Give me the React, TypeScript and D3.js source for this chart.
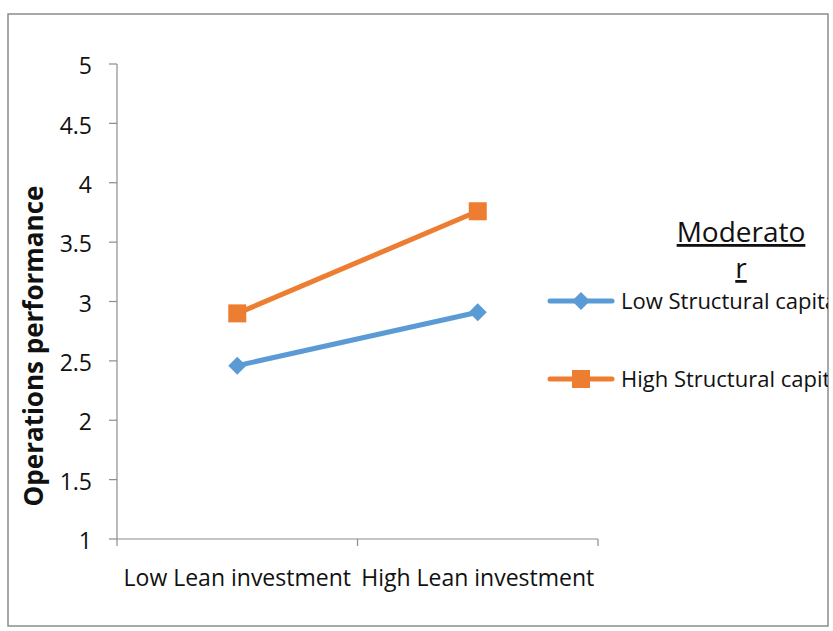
import React from 'react';
import * as d3 from 'd3';

const categories = ['Low Lean investment', 'High Lean investment'];
const lowStructural = [2.46, 2.91];
const highStructural = [2.9, 3.76];
const seriesNames = ['Low Structural capital', 'High Structural capital'];
const yTicks = [1, 1.5, 2, 2.5, 3, 3.5, 4, 4.5, 5];

const W = 833;
const H = 631;
const FONT = '"Open Sans", sans-serif';
const BLUE = '#5B9BD5';
const ORANGE = '#ED7D31';

const App: React.FC = () => {
  const x = d3.scaleBand<string>().domain(categories).range([117, 598]);
  const y = d3.scaleLinear().domain([1, 5]).range([539, 64]);
  const cx = (c: string) => (x(c) || 0) + x.bandwidth() / 2;

  const line = d3.line<number>()
    .x((_, i) => cx(categories[i]))
    .y(d => y(d));

  const diamond = (px: number, py: number, r: number) =>
    `M${px},${py - r}L${px + r},${py}L${px},${py + r}L${px - r},${py}Z`;

  const series = [
    { name: seriesNames[0], values: lowStructural, color: BLUE, marker: 'diamond' },
    { name: seriesNames[1], values: highStructural, color: ORANGE, marker: 'square' },
  ];

  const xTickPos = [117, ...categories.map(c => (x(c) || 0) + x.bandwidth())];

  return (
    <svg width={W} height={H} style={{ position: 'absolute', left: 0, top: 0 }} fontFamily={FONT}>
      <defs>
        <clipPath id="frame">
          <rect x={8} y={14} width={820} height={612} />
        </clipPath>
      </defs>
      <rect x={0} y={0} width={W} height={H} fill="white" />
      <rect x={8} y={14} width={820} height={612} fill="white" stroke="#8c8c8c" strokeWidth={1.5} />

      {/* y axis */}
      <line x1={117} x2={117} y1={y(5)} y2={y(1)} stroke="#8c8c8c" strokeWidth={1.2} />
      {yTicks.map(t => (
        <g key={t}>
          <line x1={109} x2={117} y1={y(t)} y2={y(t)} stroke="#8c8c8c" strokeWidth={1.2} />
          <text x={92} y={y(t) + 4} textAnchor="end" dominantBaseline="middle" fontSize={23} fill="#111">
            {t}
          </text>
        </g>
      ))}

      {/* x axis */}
      <line x1={117} x2={598} y1={y(1)} y2={y(1)} stroke="#8c8c8c" strokeWidth={1.2} />
      {xTickPos.map((p, i) => (
        <line key={i} x1={p} x2={p} y1={y(1)} y2={y(1) + 7} stroke="#8c8c8c" strokeWidth={1.2} />
      ))}
      {categories.map(c => (
        <text key={c} x={cx(c)} y={586} textAnchor="middle" fontSize={23} fill="#111">
          {c}
        </text>
      ))}

      <text
        transform="translate(43,346) rotate(-90)"
        textAnchor="middle"
        fontSize={26}
        fontWeight="bold"
        fill="#111"
      >
        Operations performance
      </text>

      {/* series */}
      {series.map(s => (
        <g key={s.name}>
          <path d={line(s.values) || ''} fill="none" stroke={s.color} strokeWidth={5} strokeLinecap="round" />
          {s.values.map((v, i) =>
            s.marker === 'diamond' ? (
              <path key={i} d={diamond(cx(categories[i]), y(v), 9)} fill={s.color} />
            ) : (
              <rect key={i} x={cx(categories[i]) - 9} y={y(v) - 9} width={18} height={18} fill={s.color} />
            )
          )}
        </g>
      ))}

      {/* legend (text cut at the frame edge as in the original) */}
      <g clipPath="url(#frame)">
        <text x={741} y={242} textAnchor="middle" fontSize={28} fill="#111" textDecoration="underline">
          Moderato
        </text>
        <text x={741} y={278} textAnchor="middle" fontSize={28} fill="#111" textDecoration="underline">
          r
        </text>
        {series.map((s, i) => {
          const ly = 301 + i * 78;
          return (
            <g key={s.name}>
              <line x1={550} x2={612} y1={ly} y2={ly} stroke={s.color} strokeWidth={5} strokeLinecap="round" />
              {s.marker === 'diamond' ? (
                <path d={diamond(581, ly, 9)} fill={s.color} />
              ) : (
                <rect x={572} y={ly - 9} width={18} height={18} fill={s.color} />
              )}
              <text x={621} y={ly + 2} dominantBaseline="middle" fontSize={22} fill="#111">
                {s.name}
              </text>
            </g>
          );
        })}
      </g>
    </svg>
  );
};

export default App;
